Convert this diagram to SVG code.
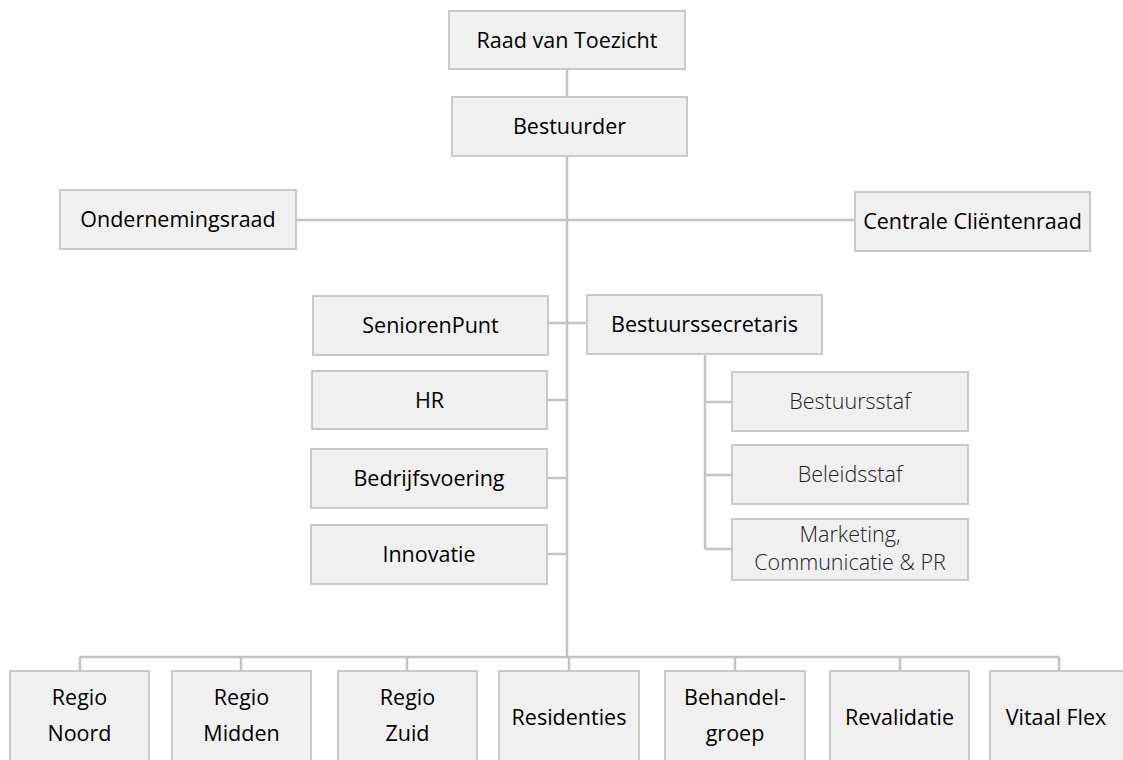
<svg xmlns="http://www.w3.org/2000/svg" width="1123" height="760" viewBox="0 0 1123 760">
<defs>
<style>
.box{fill:#f0f0f0;stroke:#c9c9c9;stroke-width:2}
.t{font-family:"Open Sans","Liberation Sans",sans-serif;font-size:21.5px;fill:#000;text-anchor:middle}
.l{font-weight:300;fill:#222}
.c{fill:none;stroke:#c3c3c3;stroke-width:2.5}
</style>
</defs>
<rect width="1123" height="760" fill="#ffffff"/>
<g id="connectors">
<path class="c" d="M567 69V97M567 156V657M296 220H855M548 323H587M80 657H1059"/>
<path class="c" d="M705 354V549M705 402H732M705 475H732M705 549H732"/>
<path class="c" d="M547 400H567M547 478H567M547 554H567"/>
<path class="c" d="M80 657V671M241 657V671M407 657V671M569 657V671M735 657V671M900 657V671M1059 657V671"/>
</g>
<g id="raad"><rect class="box" x="449" y="11" width="236" height="58"/><text class="t" x="567" y="47.5">Raad van Toezicht</text></g>
<g id="bestuurder"><rect class="box" x="452" y="97" width="235" height="59"/><text class="t" x="569.5" y="134">Bestuurder</text></g>
<g id="or"><rect class="box" x="60" y="190" width="236" height="59"/><text class="t" x="178" y="227">Ondernemingsraad</text></g>
<g id="ccr"><rect class="box" x="855" y="192" width="235" height="59"/><text class="t" x="972.5" y="229">Centrale Cliëntenraad</text></g>
<g id="seniorenpunt"><rect class="box" x="313" y="296" width="235" height="59"/><text class="t" x="430.5" y="333">SeniorenPunt</text></g>
<g id="secretaris"><rect class="box" x="587" y="295" width="235" height="59"/><text class="t" x="704.5" y="332">Bestuurssecretaris</text></g>
<g id="hr"><rect class="box" x="312" y="371" width="235" height="58"/><text class="t" x="429.5" y="407.5">HR</text></g>
<g id="bedrijfsvoering"><rect class="box" x="311" y="449" width="236" height="59"/><text class="t" x="429" y="486">Bedrijfsvoering</text></g>
<g id="innovatie"><rect class="box" x="311" y="525" width="236" height="59"/><text class="t" x="429" y="562">Innovatie</text></g>
<g id="bestuursstaf"><rect class="box" x="732" y="372" width="236" height="59"/><text class="t l" x="850" y="409">Bestuursstaf</text></g>
<g id="beleidsstaf"><rect class="box" x="732" y="445" width="236" height="59"/><text class="t l" x="850" y="482">Beleidsstaf</text></g>
<g id="marketing"><rect class="box" x="732" y="519" width="236" height="61"/><text class="t l" x="850" y="542">Marketing,</text><text class="t l" x="850" y="570">Communicatie &amp; PR</text></g>
<g id="noord"><rect class="box" x="10" y="671" width="139" height="100"/><text class="t" x="79.5" y="705">Regio</text><text class="t" x="79.5" y="741">Noord</text></g>
<g id="midden"><rect class="box" x="172" y="671" width="139" height="100"/><text class="t" x="241.5" y="705">Regio</text><text class="t" x="241.5" y="741">Midden</text></g>
<g id="zuid"><rect class="box" x="338" y="671" width="139" height="100"/><text class="t" x="407.5" y="705">Regio</text><text class="t" x="407.5" y="741">Zuid</text></g>
<g id="residenties"><rect class="box" x="499" y="671" width="140" height="100"/><text class="t" x="569" y="725">Residenties</text></g>
<g id="behandelgroep"><rect class="box" x="665" y="671" width="140" height="100"/><text class="t" x="735" y="705">Behandel-</text><text class="t" x="735" y="741">groep</text></g>
<g id="revalidatie"><rect class="box" x="830" y="671" width="139" height="100"/><text class="t" x="899.5" y="725">Revalidatie</text></g>
<g id="vitaalflex"><rect class="box" x="990" y="671" width="138" height="100"/><text class="t" x="1056" y="725">Vitaal Flex</text></g>
</svg>
